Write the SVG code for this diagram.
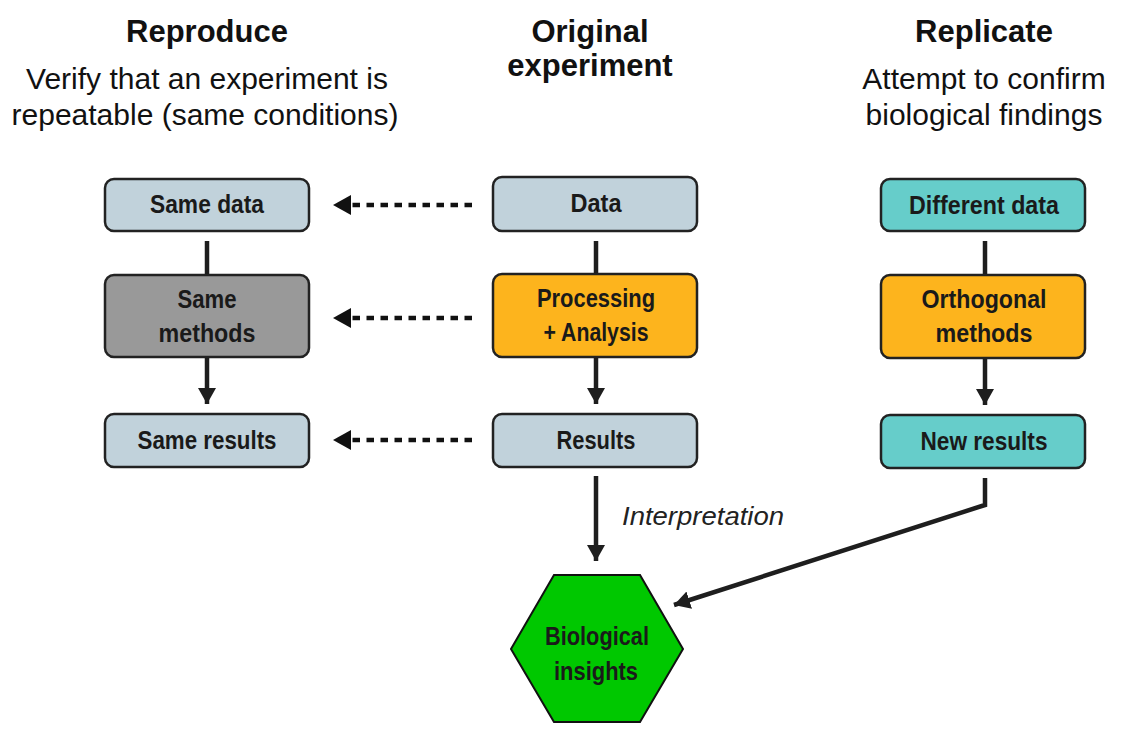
<svg xmlns="http://www.w3.org/2000/svg" width="1133" height="729" viewBox="0 0 1133 729">
<style>
  .box { stroke: #222; stroke-width: 2.5; }
  .grey { fill: #c1d2db; }
  .dark { fill: #999999; }
  .orange { fill: #fdb41d; }
  .teal { fill: #66cdca; }
  .hex { fill: #00c800; stroke: #111; stroke-width: 2; }
  .lbl { font-family: "Liberation Sans", sans-serif; font-weight: bold; font-size: 25px; fill: #1a1a1a; text-anchor: middle; }
  .head { font-family: "Liberation Sans", sans-serif; font-weight: bold; font-size: 31px; fill: #111; text-anchor: middle; }
  .sub { font-family: "Liberation Sans", sans-serif; font-size: 30px; fill: #111; text-anchor: middle; }
  .ital { font-family: "Liberation Sans", sans-serif; font-style: italic; font-size: 26px; fill: #222; }
  .line { stroke: #1e1e1e; stroke-width: 4.5; fill: none; }
  .dash { stroke: #111; stroke-width: 4.5; fill: none; stroke-dasharray: 7.5 6.5; }
</style>
<defs>
  <marker id="ah" markerUnits="userSpaceOnUse" markerWidth="20" markerHeight="20" refX="16" refY="9" orient="auto">
    <path d="M0,0 L16,9 L0,18 Z" fill="#1e1e1e"/>
  </marker>
</defs>

<g id="titles">
  <text class="head" x="207" y="42">Reproduce</text>
  <text class="sub" x="207" y="89">Verify that an experiment is</text>
  <text class="sub" x="205" y="125">repeatable (same conditions)</text>
  <text class="head" x="590" y="42">Original</text>
  <text class="head" x="590" y="76">experiment</text>
  <text class="head" x="984" y="42">Replicate</text>
  <text class="sub" x="984" y="89">Attempt to confirm</text>
  <text class="sub" x="984" y="125">biological findings</text>
</g>

<g id="connectors">
  <line class="line" x1="207" y1="241" x2="207" y2="275"/>
  <line class="line" x1="207" y1="358" x2="207" y2="404" marker-end="url(#ah)"/>
  <line class="line" x1="596" y1="241" x2="596" y2="274"/>
  <line class="line" x1="596" y1="358" x2="596" y2="404" marker-end="url(#ah)"/>
  <line class="line" x1="985" y1="241" x2="985" y2="275"/>
  <line class="line" x1="985" y1="358" x2="985" y2="405" marker-end="url(#ah)"/>
  <line class="line" x1="596" y1="476" x2="596" y2="561" marker-end="url(#ah)"/>
  <polyline class="line" points="985,478 985,505 674,605" marker-end="url(#ah)"/>
  <line class="dash" x1="472" y1="205" x2="350" y2="205"/>
  <path d="M333,205 L351,195 L351,215 Z" fill="#111"/>
  <line class="dash" x1="472" y1="318" x2="350" y2="318"/>
  <path d="M333,318 L351,308 L351,328 Z" fill="#111"/>
  <line class="dash" x1="472" y1="440" x2="350" y2="440"/>
  <path d="M333,440 L351,430 L351,450 Z" fill="#111"/>
  <text class="ital" x="622" y="525" textLength="162" lengthAdjust="spacingAndGlyphs">Interpretation</text>
</g>

<g id="same-data">
  <rect class="box grey" x="105" y="179" width="204" height="52" rx="9"/>
  <text class="lbl" x="207" y="213" textLength="114" lengthAdjust="spacingAndGlyphs">Same data</text>
</g>
<g id="same-methods">
  <rect class="box dark" x="105" y="275" width="204" height="82" rx="9"/>
  <text class="lbl" x="207" y="308" textLength="59" lengthAdjust="spacingAndGlyphs">Same</text>
  <text class="lbl" x="207" y="342" textLength="97" lengthAdjust="spacingAndGlyphs">methods</text>
</g>
<g id="same-results">
  <rect class="box grey" x="105" y="414" width="204" height="53" rx="9"/>
  <text class="lbl" x="207" y="449" textLength="139" lengthAdjust="spacingAndGlyphs">Same results</text>
</g>

<g id="data">
  <rect class="box grey" x="493" y="177" width="204" height="54" rx="9"/>
  <text class="lbl" x="596" y="212" textLength="51" lengthAdjust="spacingAndGlyphs">Data</text>
</g>
<g id="processing">
  <rect class="box orange" x="493" y="274" width="204" height="83" rx="9"/>
  <text class="lbl" x="596" y="307" textLength="118" lengthAdjust="spacingAndGlyphs">Processing</text>
  <text class="lbl" x="596" y="341" textLength="105" lengthAdjust="spacingAndGlyphs">+ Analysis</text>
</g>
<g id="results">
  <rect class="box grey" x="493" y="414" width="204" height="53" rx="9"/>
  <text class="lbl" x="596" y="449" textLength="79" lengthAdjust="spacingAndGlyphs">Results</text>
</g>

<g id="different-data">
  <rect class="box teal" x="881" y="179" width="204" height="52" rx="9"/>
  <text class="lbl" x="984" y="214" textLength="150" lengthAdjust="spacingAndGlyphs">Different data</text>
</g>
<g id="orthogonal-methods">
  <rect class="box orange" x="881" y="275" width="204" height="83" rx="9"/>
  <text class="lbl" x="984" y="308" textLength="125" lengthAdjust="spacingAndGlyphs">Orthogonal</text>
  <text class="lbl" x="984" y="342" textLength="97" lengthAdjust="spacingAndGlyphs">methods</text>
</g>
<g id="new-results">
  <rect class="box teal" x="881" y="415" width="204" height="53" rx="9"/>
  <text class="lbl" x="984" y="450" textLength="127" lengthAdjust="spacingAndGlyphs">New results</text>
</g>

<g id="biological-insights">
  <polygon class="hex" points="554,575 640,575 683,649 640,722 554,722 511,649"/>
  <text class="lbl" x="597" y="645" textLength="104" lengthAdjust="spacingAndGlyphs">Biological</text>
  <text class="lbl" x="596" y="680" textLength="84" lengthAdjust="spacingAndGlyphs">insights</text>
</g>
</svg>
